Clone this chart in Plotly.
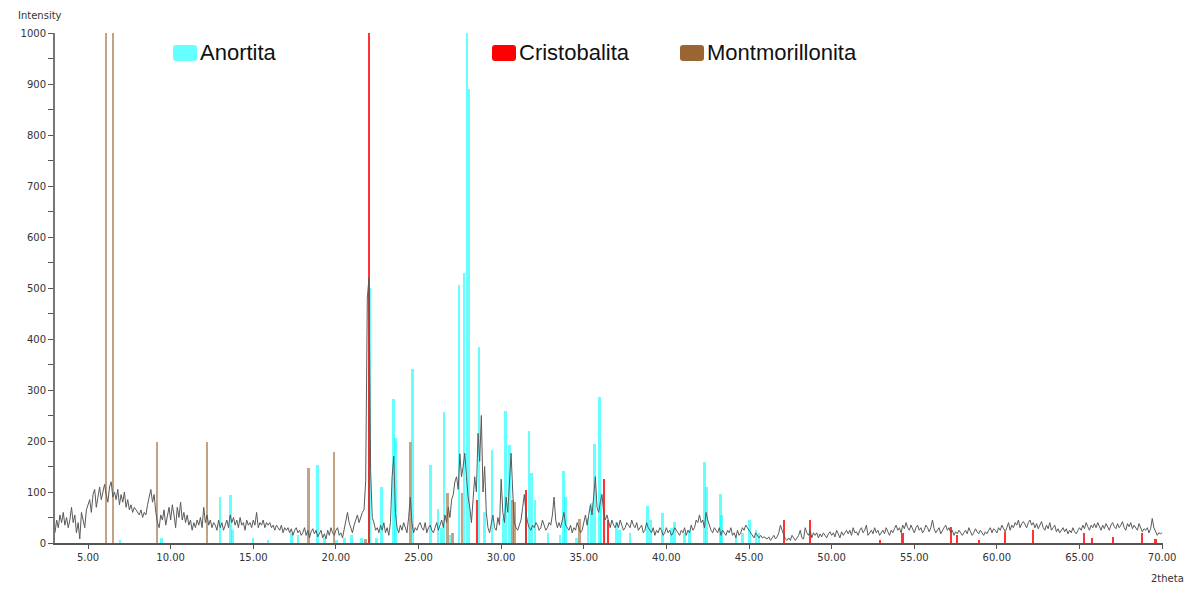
import plotly.graph_objects as go

# ---------------- data ----------------
# measured pattern: 2theta from 3.0 to 70.0, step 0.1
theta_start = 3.0
theta_step = 0.1
intensity = [
    20, 45, 30, 55, 40, 60, 35, 50, 30, 45,      # 3
    70, 40, 55, 20, 40, 8, 60, 45, 30, 65,       # 4
    75, 85, 60, 95, 105, 70, 90, 110, 85, 100,   # 5
    115, 95, 80, 110, 120, 90, 100, 85, 105, 75, # 6
    95, 80, 100, 70, 85, 65, 75, 60, 70, 65,     # 7
    60, 55, 65, 50, 60, 55, 75, 90, 105, 80,     # 8
    95, 60, 40, 30, 55, 45, 65, 35, 50, 70,      # 9
    45, 75, 55, 30, 70, 50, 80, 45, 60, 40,      # 10
    55, 35, 45, 25, 40, 30, 45, 35, 50, 30,      # 11
    70, 40, 55, 35, 45, 30, 40, 35, 25, 45,      # 12
    30, 40, 25, 35, 45, 30, 55, 40, 50, 35,      # 13
    45, 30, 50, 35, 40, 25, 45, 35, 40, 30,      # 14
    45, 35, 60, 30, 40, 35, 45, 30, 40, 35,      # 15
    40, 30, 35, 25, 35, 30, 25, 35, 20, 30,      # 16
    25, 30, 20, 28, 15, 25, 30, 20, 25, 15,      # 17
    20, 30, 15, 25, 10, 22, 28, 18, 25, 12,      # 18
    20, 25, 10, 18, 8, 25, 15, 30, 20, 15,       # 19
    25, 30, 15, 20, 10, 25, 45, 60, 40, 30,      # 20
    20, 35, 45, 55, 40, 50, 60, 65, 120, 480,    # 21
    520, 140, 50, 40, 25, 30, 20, 35, 25, 40,    # 22
    20, 30, 15, 40, 130, 170, 60, 30, 20, 35,    # 23
    25, 40, 30, 20, 50, 90, 40, 20, 30, 25,      # 24
    35, 40, 30, 25, 40, 20, 30, 35, 25, 20,      # 25
    30, 40, 25, 35, 45, 30, 55, 40, 70, 50,      # 26
    85, 95, 120, 130, 105, 175, 130, 150, 176, 130,  # 27
    90, 70, 40, 85, 130, 100, 215, 160, 250, 100,    # 28
    150, 60, 30, 20, 40, 55, 30, 25, 50, 35,     # 29
    125, 60, 40, 90, 60, 110, 176, 100, 40, 30,  # 30
    25, 35, 45, 70, 95, 60, 40, 30, 25, 35,      # 31
    30, 40, 35, 25, 30, 45, 35, 25, 30, 40,      # 32
    35, 55, 90, 45, 30, 40, 30, 45, 60, 35,      # 33
    30, 25, 35, 20, 30, 25, 40, 30, 20, 25,      # 34
    40, 55, 35, 60, 75, 55, 90, 130, 70, 60,     # 35
    80, 95, 60, 45, 55, 40, 30, 45, 35, 30,      # 36
    40, 30, 45, 35, 25, 30, 40, 35, 30, 45,      # 37
    35, 30, 40, 25, 30, 35, 20, 25, 40, 30,      # 38
    25, 20, 30, 15, 25, 20, 30, 25, 15, 20,      # 39
    30, 20, 25, 15, 20, 30, 25, 20, 15, 25,      # 40
    20, 30, 15, 25, 20, 35, 25, 30, 45, 40,      # 41
    55, 40, 45, 30, 60, 45, 35, 25, 20, 30,      # 42
    25, 20, 30, 15, 25, 20, 15, 25, 20, 30,      # 43
    15, 20, 10, 25, 15, 20, 30, 25, 35, 30,      # 44
    25, 20, 15, 10, 20, 15, 10, 15, 10, 12,      # 45
    10, 8, 12, 5, 10, 15, 8, 12, 20, 35,         # 46
    25, 15, 8, 5, 10, 5, 15, 10, 5, 10,          # 47
    15, 25, 10, 8, 30, 20, 15, 25, 10, 20,       # 48
    15, 20, 10, 18, 12, 20, 15, 10, 18, 22,      # 49
    15, 20, 12, 25, 18, 10, 22, 15, 20, 25,      # 50
    18, 25, 15, 30, 20, 22, 15, 25, 30, 20,      # 51
    25, 35, 15, 20, 25, 18, 30, 20, 25, 15,      # 52
    20, 25, 18, 30, 22, 15, 25, 20, 28, 35,      # 53
    25, 30, 20, 35, 28, 40, 30, 25, 35, 28,      # 54
    20, 30, 35, 25, 30, 20, 25, 35, 30, 22,      # 55
    30, 45, 28, 20, 25, 30, 18, 25, 30, 35,      # 56
    25, 30, 20, 25, 15, 22, 18, 25, 20, 15,      # 57
    20, 25, 18, 30, 22, 15, 20, 28, 22, 18,      # 58
    25, 20, 15, 22, 18, 25, 30, 20, 28, 25,      # 59
    20, 30, 25, 35, 28, 22, 30, 40, 25, 35,      # 60
    30, 40, 35, 45, 30, 38, 42, 35, 30, 40,      # 61
    45, 35, 40, 30, 38, 28, 35, 42, 30, 25,      # 62
    35, 28, 40, 25, 30, 35, 22, 28, 20, 25,      # 63
    30, 22, 28, 18, 25, 20, 30, 22, 18, 25,      # 64
    30, 25, 35, 28, 40, 32, 25, 35, 30, 38,      # 65
    30, 40, 32, 25, 35, 28, 38, 30, 25, 35,      # 66
    40, 32, 28, 38, 30, 35, 42, 30, 25, 38,      # 67
    32, 40, 28, 35, 30, 25, 38, 30, 22, 28,      # 68
    25, 30, 20, 28, 48, 30, 22, 15, 20, 18,      # 69
    20,                                          # 70
]
two_theta = [round(theta_start + i * theta_step, 2) for i in range(len(intensity))]

# reference stick patterns
anortita_pos = [6.93, 9.45, 12.98, 13.62, 13.76, 14.98, 15.88, 17.31, 17.7, 18.9,
                19.32, 20.03, 20.53, 20.94, 21.55, 22.05, 22.45, 22.75, 23.5, 23.62,
                24.63, 25.73, 26.17, 26.4, 26.54, 26.9, 27.45, 27.75, 27.93, 28.05,
                28.65, 29.0, 29.44, 30.1, 30.27, 30.5, 31.5, 31.69, 31.84, 32.04,
                32.84, 33.55, 33.79, 33.9, 34.55, 35.25, 35.45, 35.65, 35.95, 36.05,
                36.96, 37.16, 37.8, 38.84, 39.04, 39.78, 40.29, 40.49, 41.1, 41.4,
                42.3, 42.44, 43.26, 43.34, 44.2, 44.6, 45.02, 45.42, 45.6]
anortita_int = [5, 10, 90, 94, 25, 10, 5, 20, 15, 153,
                10, 5, 10, 15, 10, 500, 10, 110, 283, 205,
                342, 152, 66, 30, 256, 15, 505, 530, 1000, 890,
                385, 60, 182, 50, 259, 192, 60, 220, 138, 84,
                20, 15, 142, 91, 10, 50, 78, 194, 286, 98,
                42, 25, 20, 72, 45, 58, 30, 42, 20, 25,
                159, 110, 96, 55, 15, 20, 45, 25, 20]

cristobalita_pos = [22.0, 28.55, 31.52, 36.2, 36.45, 47.13, 48.7, 52.9, 54.29, 57.2,
                    57.6, 58.9, 60.47, 62.19, 65.27, 65.73, 67.0, 68.76, 69.6]
cristobalita_int = [1000, 84, 103, 125, 45, 45, 45, 5, 20, 32,
                    15, 5, 22, 25, 20, 10, 12, 20, 8]

montmorillonita_pos = [6.08, 6.5, 9.17, 12.2, 18.34, 19.89, 21.78, 24.52, 26.74, 27.06,
                       27.62, 30.67, 30.8, 34.74]
montmorillonita_int = [1000, 1000, 198, 198, 148, 178, 8, 199, 99, 20,
                       99, 85, 80, 47]

phase_names = ["Anortita", "Cristobalita", "Montmorillonita"]
phase_colors = ["#66ffff", "#ff0000", "#996633"]

x_ticks = [5, 10, 15, 20, 25, 30, 35, 40, 45, 50, 55, 60, 65, 70]
y_ticks = [0, 100, 200, 300, 400, 500, 600, 700, 800, 900, 1000]

# ---------------- figure ----------------
fig = go.Figure()

fig.add_trace(go.Scatter(
    x=two_theta, y=intensity, mode="lines",
    line=dict(color="#5a5a5a", width=1), showlegend=False, hoverinfo="skip"))

stick_width = 0.16
fig.add_trace(go.Bar(x=montmorillonita_pos, y=montmorillonita_int, width=stick_width,
                     marker=dict(color="rgba(153,102,51,0.6)", line=dict(width=0)),
                     name=phase_names[2], showlegend=False))
fig.add_trace(go.Bar(x=anortita_pos, y=anortita_int, width=stick_width,
                     marker=dict(color="rgba(0,255,255,0.6)", line=dict(width=0)),
                     name=phase_names[0], showlegend=False))
fig.add_trace(go.Bar(x=cristobalita_pos, y=cristobalita_int, width=0.13,
                     marker=dict(color="rgba(255,0,0,0.8)", line=dict(width=0)),
                     name=phase_names[1], showlegend=False))

# legend drawn as rounded swatches + text (paper coordinates)
plot_l, plot_w, plot_b, plot_h = 55, 1108, 543, 510


def px_to_paper_x(px):
    return (px - plot_l) / plot_w


def px_to_paper_y(py):
    return (plot_b - py) / plot_h


legend_swatch_px = [173, 492, 680]
shapes = []
annotations = []
legend_font = dict(family="Liberation Sans, Arial, sans-serif", size=22, color="#111111")
for name, color, sx in zip(phase_names, phase_colors, legend_swatch_px):
    x0, x1 = sx, sx + 24
    y0, y1 = 45, 61
    r = 3
    path = (f"M {px_to_paper_x(x0 + r)},{px_to_paper_y(y0)} "
            f"L {px_to_paper_x(x1 - r)},{px_to_paper_y(y0)} "
            f"Q {px_to_paper_x(x1)},{px_to_paper_y(y0)} {px_to_paper_x(x1)},{px_to_paper_y(y0 + r)} "
            f"L {px_to_paper_x(x1)},{px_to_paper_y(y1 - r)} "
            f"Q {px_to_paper_x(x1)},{px_to_paper_y(y1)} {px_to_paper_x(x1 - r)},{px_to_paper_y(y1)} "
            f"L {px_to_paper_x(x0 + r)},{px_to_paper_y(y1)} "
            f"Q {px_to_paper_x(x0)},{px_to_paper_y(y1)} {px_to_paper_x(x0)},{px_to_paper_y(y1 - r)} "
            f"L {px_to_paper_x(x0)},{px_to_paper_y(y0 + r)} "
            f"Q {px_to_paper_x(x0)},{px_to_paper_y(y0)} {px_to_paper_x(x0 + r)},{px_to_paper_y(y0)} Z")
    shapes.append(dict(type="path", xref="paper", yref="paper", path=path,
                       fillcolor=color, line=dict(width=0), layer="above"))
    annotations.append(dict(text=name, xref="paper", yref="paper",
                            x=px_to_paper_x(x1 + 1), y=px_to_paper_y(53),
                            xanchor="left", yanchor="middle", showarrow=False,
                            font=legend_font))

small_font = dict(family="DejaVu Sans, Verdana, sans-serif", size=10, color="#333333")
annotations.append(dict(text="Intensity", xref="paper", yref="paper", x=-0.035, y=1.02,
                        xanchor="left", yanchor="bottom", showarrow=False, font=small_font))
annotations.append(dict(text="2theta", xref="paper", yref="paper", x=1.0, y=-0.055,
                        xanchor="left", yanchor="top", showarrow=False, xshift=-14,
                        font=small_font))

tick_font = dict(family="DejaVu Sans, Verdana, sans-serif", size=10, color="#333333")
fig.update_layout(
    width=1194, height=589,
    margin=dict(l=55, r=31, t=33, b=46),
    paper_bgcolor="white", plot_bgcolor="white",
    barmode="overlay", bargap=0, showlegend=False,
    xaxis=dict(range=[3, 70.05], tickmode="array", tickvals=x_ticks,
               ticktext=[f"{v:.2f}" for v in x_ticks],
               showgrid=False, zeroline=False, showline=True, linecolor="#555555",
               linewidth=2, ticks="outside", ticklen=4, tickcolor="#555555",
               tickfont=tick_font),
    yaxis=dict(range=[0, 1000], tickmode="array", tickvals=y_ticks,
               showgrid=False, zeroline=False, showline=True, linecolor="#777777",
               linewidth=2, ticks="outside", ticklen=5, tickcolor="#555555",
               tickfont=tick_font,
               minor=dict(dtick=50, ticks="outside", ticklen=5, tickcolor="#555555")),
    shapes=shapes,
    annotations=annotations,
)

fig.write_html("out.html")
